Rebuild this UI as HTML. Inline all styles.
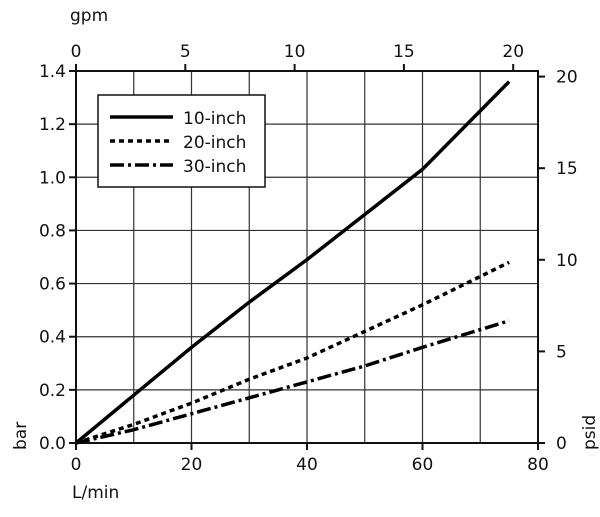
<!DOCTYPE html>
<html><head><meta charset="utf-8"><style>
body{margin:0;background:#fff;width:600px;height:512px;overflow:hidden}
text{font-family:"DejaVu Sans","Liberation Sans",sans-serif;font-size:17px;fill:#111}
</style></head><body>
<svg id="chart" width="600" height="512" xmlns="http://www.w3.org/2000/svg">
<g id="grid"></g>
<g id="axes"></g>
<g id="series"></g>
<g>
<rect x="98" y="95" width="167" height="92" fill="#fff" stroke="#111" stroke-width="1.5"/>
<line x1="110" y1="117" x2="173" y2="117" stroke="#000" stroke-width="3.5"/>
<text x="183" y="124">10-inch</text>
<line x1="110" y1="141" x2="173" y2="141" stroke="#000" stroke-width="3.5" stroke-dasharray="5,4"/>
<text x="183" y="148">20-inch</text>
<line x1="110" y1="165" x2="173" y2="165" stroke="#000" stroke-width="3.5" stroke-dasharray="14,4,3,4"/>
<text x="183" y="172">30-inch</text>
</g>
<text x="70" y="21">gpm</text>
<text x="72" y="498">L/min</text>
<text transform="translate(26,450) rotate(-90)">bar</text>
<text transform="translate(595,450) rotate(-90)">psid</text>
</svg>
<script>
const xTicks=[0,20,40,60,80];
const yTicks=[0,0.2,0.4,0.6,0.8,1.0,1.2,1.4];
const gpmTicks=[0,5,10,15,20];
const psiTicks=[0,5,10,15,20];
const flow=[0,10,20,30,40,50,60,75];
const s10=[0,0.18,0.36,0.53,0.69,0.86,1.03,1.36];
const s20=[0,0.07,0.15,0.24,0.32,0.42,0.52,0.68];
const s30=[0,0.05,0.11,0.17,0.23,0.29,0.36,0.46];
const L=76,R=538,T=71,B=443;
const X=v=>L+v/80*(R-L);
const Y=v=>B-v/1.4*(B-T);
const G=v=>L+v*3.785411784/80*(R-L);
const P=v=>Y(v*0.0689476);
const ns="http://www.w3.org/2000/svg";
function mk(parent,tag,attrs){const e=document.createElementNS(ns,tag);for(const k in attrs)e.setAttribute(k,attrs[k]);document.getElementById(parent).appendChild(e);return e;}
for(let v=10;v<80;v+=10){const e=mk('grid','line',{x1:X(v),x2:X(v),y1:T,y2:B,stroke:'#333','stroke-width':1.2});

}
for(let i=1;i<7;i++){const v=i*0.2;const e=mk('grid','line',{x1:L,x2:R,y1:Y(v),y2:Y(v),stroke:'#333','stroke-width':1.2});

}
const fr=mk('axes','rect',{x:L,y:T,width:R-L,height:B-T,fill:'none',stroke:'#111','stroke-width':2});


xTicks.forEach(v=>{mk('axes','line',{x1:X(v),x2:X(v),y1:B,y2:B+7,stroke:'#111','stroke-width':2});
const t=mk('axes','text',{x:X(v),y:B+27,'text-anchor':'middle'});t.textContent=v;

});
yTicks.forEach(v=>{mk('axes','line',{x1:L-7,x2:L,y1:Y(v),y2:Y(v),stroke:'#111','stroke-width':2});
const t=mk('axes','text',{x:L-10,y:Y(v)+6,'text-anchor':'end'});t.textContent=v.toFixed(1);

});
gpmTicks.forEach(v=>{mk('axes','line',{x1:G(v),x2:G(v),y1:T-7,y2:T,stroke:'#111','stroke-width':2});
const t=mk('axes','text',{x:G(v),y:T-14,'text-anchor':'middle'});t.textContent=v;

});
psiTicks.forEach(v=>{mk('axes','line',{x1:R,x2:R+7,y1:P(v),y2:P(v),stroke:'#111','stroke-width':2});
const t=mk('axes','text',{x:R+18,y:P(v)+6,'text-anchor':'start'});t.textContent=v;

});
function line(data,dash,name){const d=flow.map((f,i)=>(i?'L':'M')+X(f)+','+Y(data[i])).join(' ');
const p=mk('series','path',{d:d,fill:'none',stroke:'#000','stroke-width':3.5,'stroke-dasharray':dash});

}
line(s10,'none','series-10-inch');
line(s20,'5,4','series-20-inch');
line(s30,'14,4,3,4','series-30-inch');
</script>
</body></html>
